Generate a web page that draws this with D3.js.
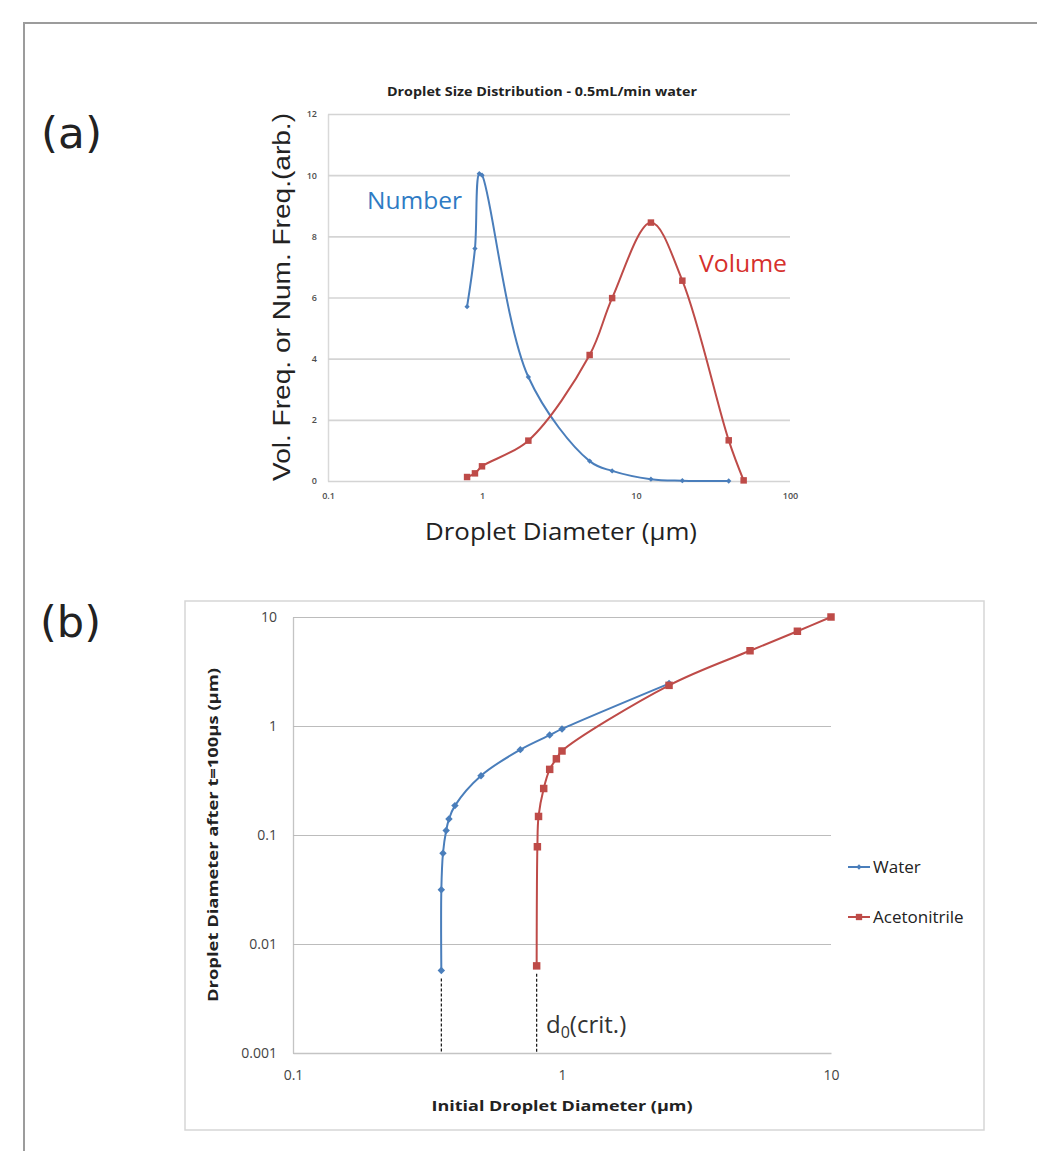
<!DOCTYPE html>
<html>
<head>
<meta charset="utf-8">
<script src="https://cdn.jsdelivr.net/npm/d3@7"></script>
<style>
  body { margin: 0; background: #fff; }
  svg { display: block; }
  text { font-family: "Open Sans", sans-serif; }
</style>
</head>
<body>
<svg id="fig" width="1037" height="1151"></svg>
<script>
// (a) droplet size distribution, 0.5 mL/min water
const numberX = [0.8, 0.9, 0.96, 1, 2, 5, 7, 12.5, 20, 40]
const numberY = [5.7, 7.6, 10.05, 10.0, 3.4, 0.65, 0.33, 0.06, 0.01, 0.0]
const volumeX = [0.8, 0.9, 1, 2, 5, 7, 12.5, 20, 40, 50]
const volumeY = [0.13, 0.25, 0.48, 1.32, 4.12, 5.98, 8.45, 6.55, 1.33, 0.02]
const ticksXa = [0.1, 1, 10, 100]
const ticksYa = [0, 2, 4, 6, 8, 10, 12]

// (b) droplet diameter after t=100us
const waterX = [0.356, 0.356, 0.361, 0.371, 0.38, 0.40, 0.50, 0.70, 0.90, 1.0, 2.5]
const waterY = [0.0057, 0.0315, 0.068, 0.11, 0.14, 0.186, 0.35, 0.607, 0.825, 0.94, 2.45]
const acnX = [0.805, 0.81, 0.818, 0.855, 0.90, 0.953, 1.0, 2.5, 5, 7.5, 10]
const acnY = [0.0063, 0.078, 0.148, 0.267, 0.40, 0.50, 0.59, 2.36, 4.9, 7.4, 10]
const ticksXb = [0.1, 1, 10]
const ticksYb = [0.001, 0.01, 0.1, 1, 10]

const blue = "#4a7ebb"
const red = "#be4b48"
const zip = (xs, ys) => xs.map((x, i) => [x, ys[i]])

const svg = d3.select('#fig')

// outer frame
svg.append('path')
    .attr('d', 'M24,1151 V23 H1037')
    .attr('fill', 'none')
    .attr('stroke', '#9c9c9c')
    .attr('stroke-width', 2)

svg.append('text').attr('x', 41).attr('y', 148)
    .attr('textLength', 61).attr('lengthAdjust', 'spacingAndGlyphs')
    .style('font-family', '"DejaVu Sans", sans-serif')
    .style('font-size', '43px').attr('fill', '#222').text('(a)')
svg.append('text').attr('x', 40).attr('y', 637)
    .attr('textLength', 61).attr('lengthAdjust', 'spacingAndGlyphs')
    .style('font-family', '"DejaVu Sans", sans-serif')
    .style('font-size', '43px').attr('fill', '#222').text('(b)')

// ---------- chart (a) ----------
const xA = d3.scaleLog().domain([0.1, 100]).range([328, 790])
const yA = d3.scaleLinear().domain([0, 12]).range([481, 114])

const gyA = svg.append('g')
    .attr('transform', 'translate(328,0)')
    .call(d3.axisLeft(yA).tickValues(ticksYa).tickSize(-(790 - 328)).tickSizeOuter(0).tickPadding(11))
gyA.select('.domain').attr('stroke', '#d9d9d9').attr('stroke-width', 1.5)
gyA.selectAll('.tick line').attr('stroke', '#d4d4d4').attr('stroke-width', 1.6)
gyA.selectAll('.tick text').attr('fill', '#4d4d4d').style('font-size', '9px').style('font-weight', 600)

const gxA = svg.append('g')
    .attr('transform', 'translate(0,481)')
    .call(d3.axisBottom(xA).tickValues(ticksXa).tickFormat(d => String(d)).tickSize(0).tickPadding(12))
gxA.select('.domain').remove()
gxA.selectAll('.tick text').attr('fill', '#4d4d4d').style('font-size', '9px').style('font-weight', 600)

const lineA = d3.line()
    .x(d => xA(d[0]))
    .y(d => yA(d[1]))
    .curve(d3.curveCatmullRom)

svg.append('path').datum(zip(numberX, numberY))
    .attr('d', lineA).attr('fill', 'none').attr('stroke', blue).attr('stroke-width', 2)
svg.append('path').datum(zip(volumeX, volumeY))
    .attr('d', lineA).attr('fill', 'none').attr('stroke', red).attr('stroke-width', 2)

svg.append('g').selectAll('path').data(zip(numberX, numberY)).enter().append('path')
    .attr('d', d3.symbol(d3.symbolSquare, 14))
    .attr('transform', d => `translate(${xA(d[0])},${yA(d[1])}) rotate(45)`)
    .attr('fill', blue)
svg.append('g').selectAll('path').data(zip(volumeX, volumeY)).enter().append('path')
    .attr('d', d3.symbol(d3.symbolSquare, 42))
    .attr('transform', d => `translate(${xA(d[0])},${yA(d[1])})`)
    .attr('fill', red)

svg.append('text').attr('x', 542).attr('y', 96)
    .attr('text-anchor', 'middle')
    .attr('textLength', 310).attr('lengthAdjust', 'spacingAndGlyphs')
    .style('font-size', '13px').style('font-weight', 'bold').attr('fill', '#222')
    .text('Droplet Size Distribution - 0.5mL/min water')

svg.append('text').attr('x', 367).attr('y', 209)
    .attr('textLength', 95).attr('lengthAdjust', 'spacingAndGlyphs')
    .style('font-size', '24px').attr('fill', '#2e7bc4').text('Number')
svg.append('text').attr('x', 699).attr('y', 272)
    .attr('textLength', 88).attr('lengthAdjust', 'spacingAndGlyphs')
    .style('font-size', '24px').attr('fill', '#d6302c').text('Volume')

svg.append('text')
    .attr('transform', 'translate(290,297) rotate(-90)')
    .attr('text-anchor', 'middle')
    .attr('textLength', 368).attr('lengthAdjust', 'spacingAndGlyphs')
    .style('font-family', '"Liberation Sans", Arial, sans-serif')
    .style('font-size', '23px').attr('fill', '#222')
    .text('Vol. Freq. or Num. Freq.(arb.)')

svg.append('text').attr('x', 561).attr('y', 540)
    .attr('text-anchor', 'middle')
    .attr('textLength', 272).attr('lengthAdjust', 'spacingAndGlyphs')
    .style('font-size', '23px').attr('fill', '#222')
    .text('Droplet Diameter (µm)')

// ---------- chart (b) ----------
svg.append('rect')
    .attr('x', 185).attr('y', 601).attr('width', 799).attr('height', 529)
    .attr('fill', 'none').attr('stroke', '#d6d6d6').attr('stroke-width', 1.5)

const xB = d3.scaleLog().domain([0.1, 10]).range([293, 831])
const yB = d3.scaleLog().domain([0.001, 10]).range([1053, 617])

const gyB = svg.append('g')
    .attr('transform', 'translate(293,0)')
    .call(d3.axisLeft(yB).tickValues(ticksYb).tickFormat(d => String(d))
        .tickSize(-(831 - 293)).tickSizeOuter(0).tickPadding(16))
gyB.select('.domain').attr('stroke', '#c4c4c4').attr('stroke-width', 1.3)
gyB.selectAll('.tick line').attr('stroke', '#bcbcbc').attr('stroke-width', 1.2)
gyB.selectAll('.tick text').attr('fill', '#444').style('font-size', '14px')

const gxB = svg.append('g')
    .attr('transform', 'translate(0,1053)')
    .call(d3.axisBottom(xB).tickValues(ticksXb).tickFormat(d => String(d)).tickSize(0).tickSizeOuter(0).tickPadding(17))
gxB.select('.domain').attr('stroke', '#c4c4c4').attr('stroke-width', 1.3)
gxB.selectAll('.tick text').attr('fill', '#444').style('font-size', '14px')

// dashed drop lines to the critical diameters
svg.append('g').selectAll('line').data([[waterX[0], waterY[0]], [acnX[0], acnY[0]]]).enter().append('line')
    .attr('x1', d => xB(d[0])).attr('x2', d => xB(d[0]))
    .attr('y1', d => yB(d[1]) + 8).attr('y2', yB(0.001))
    .attr('stroke', '#111').attr('stroke-width', 1.2).attr('stroke-dasharray', '3,2')

const lineB = d3.line()
    .x(d => xB(d[0]))
    .y(d => yB(d[1]))
    .curve(d3.curveCatmullRom)

svg.append('path').datum(zip(waterX, waterY))
    .attr('d', lineB).attr('fill', 'none').attr('stroke', blue).attr('stroke-width', 2)
svg.append('path').datum(zip(acnX, acnY))
    .attr('d', lineB).attr('fill', 'none').attr('stroke', red).attr('stroke-width', 2)

svg.append('g').selectAll('path').data(zip(waterX, waterY)).enter().append('path')
    .attr('d', d3.symbol(d3.symbolSquare, 28))
    .attr('transform', d => `translate(${xB(d[0])},${yB(d[1])}) rotate(45)`)
    .attr('fill', blue)
svg.append('g').selectAll('path').data(zip(acnX, acnY)).enter().append('path')
    .attr('d', d3.symbol(d3.symbolSquare, 56))
    .attr('transform', d => `translate(${xB(d[0])},${yB(d[1])})`)
    .attr('fill', red)

// d0(crit.)
const crit = svg.append('text').attr('x', 546).attr('y', 1033)
    .style('font-size', '24px').attr('fill', '#333')
crit.append('tspan').text('d')
crit.append('tspan').attr('dy', 5).style('font-size', '16px').text('0')
crit.append('tspan').attr('dy', -5).text('(crit.)')

svg.append('text')
    .attr('transform', 'translate(218,835) rotate(-90)')
    .attr('text-anchor', 'middle')
    .attr('textLength', 334).attr('lengthAdjust', 'spacingAndGlyphs')
    .style('font-size', '15px').style('font-weight', 'bold').attr('fill', '#222')
    .text('Droplet Diameter after t=100µs (µm)')

svg.append('text').attr('x', 562).attr('y', 1111)
    .attr('text-anchor', 'middle')
    .attr('textLength', 261).attr('lengthAdjust', 'spacingAndGlyphs')
    .style('font-size', '15px').style('font-weight', 'bold').attr('fill', '#222')
    .text('Initial Droplet Diameter (µm)')

// legend
const legend = [
    { name: 'Water', color: blue, shape: 'diamond', y: 867 },
    { name: 'Acetonitrile', color: red, shape: 'square', y: 917 }
]
const lg = svg.append('g').selectAll('g').data(legend).enter().append('g')
    .attr('transform', d => `translate(848,${d.y})`)
lg.append('line').attr('x1', 0).attr('x2', 22)
    .attr('stroke', d => d.color).attr('stroke-width', 2)
lg.append('path')
    .attr('d', d => d.shape === 'diamond' ? d3.symbol(d3.symbolSquare, 14)() : d3.symbol(d3.symbolSquare, 40)())
    .attr('transform', d => d.shape === 'diamond' ? 'translate(11,0) rotate(45)' : 'translate(11,0)')
    .attr('fill', d => d.color)
lg.append('text').attr('x', 25).attr('y', 6)
    .style('font-size', '17px').attr('fill', '#222')
    .text(d => d.name)
</script>
</body>
</html>
